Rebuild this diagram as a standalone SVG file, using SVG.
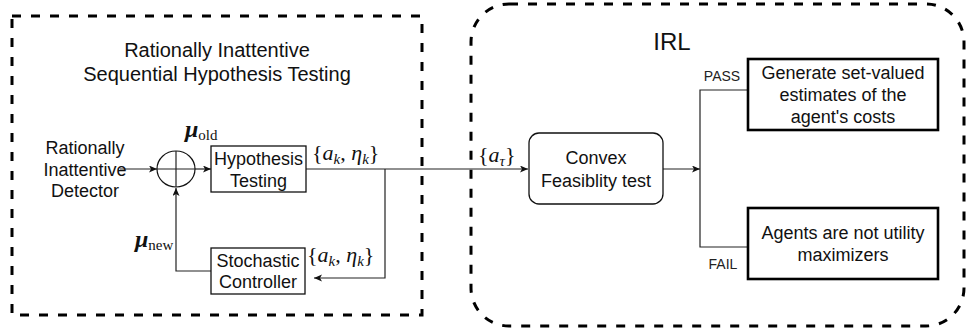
<svg xmlns="http://www.w3.org/2000/svg" width="968" height="334" viewBox="0 0 968 334">
<style>
.t{font-family:"Liberation Sans",Arial,sans-serif;font-size:18px;fill:#111;text-anchor:middle}
.title{font-size:20px}
.irl{font-size:24px}
.small{font-size:14px;fill:#222}
.m{font-family:"Liberation Serif","Times New Roman",serif;font-size:22px;fill:#111}
.i{font-style:italic}
.sub{font-size:15px}
.box{fill:#fff;stroke:#111;stroke-width:1.3}
.bold{fill:#fff;stroke:#000;stroke-width:2.6}
.dash{fill:none;stroke:#000;stroke-width:3;stroke-dasharray:9 10}
.ln{fill:none;stroke:#222;stroke-width:1.2}
</style>
<defs>
<marker id="ar" markerWidth="9" markerHeight="8" refX="8" refY="3.5" orient="auto" markerUnits="userSpaceOnUse">
<path d="M0,0 L8,3.5 L0,7 L2,3.5 z" fill="#111"/>
</marker>
</defs>
<rect width="968" height="334" fill="#fff"/>

<g id="container-rish">
<rect class="dash" x="12" y="16" width="410" height="299"/>
<text class="t title" x="217" y="57">Rationally Inattentive</text>
<text class="t title" x="217" y="81">Sequential Hypothesis Testing</text>
</g>

<g id="container-irl">
<rect class="dash" x="471" y="4" width="493" height="322" rx="38" ry="38"/>
<text class="t irl" x="672" y="50">IRL</text>
</g>

<g id="connectors">
<line class="ln" x1="120" y1="169" x2="157" y2="169" marker-end="url(#ar)"/>
<line class="ln" x1="195" y1="169" x2="211" y2="169" marker-end="url(#ar)"/>
<line class="ln" x1="306" y1="169" x2="528" y2="169" marker-end="url(#ar)"/>
<path class="ln" d="M385,169 V278 H314" marker-end="url(#ar)"/>
<path class="ln" d="M211,271 H176 V188" marker-end="url(#ar)"/>
<line class="ln" x1="663" y1="169" x2="700" y2="169" marker-end="url(#ar)"/>
<path class="ln" d="M748,90 H700 V247 H748"/>
<text class="t small" x="722" y="81">PASS</text>
<text class="t small" x="723" y="269">FAIL</text>
</g>

<g id="detector">
<text class="t" x="85" y="154">Rationally</text>
<text class="t" x="85" y="175.5">Inattentive</text>
<text class="t" x="85" y="197">Detector</text>
</g>

<g id="sum">
<ellipse cx="176" cy="169" rx="19" ry="18" fill="none" stroke="#111" stroke-width="1.2"/>
<line class="ln" x1="157" y1="169" x2="195" y2="169"/>
<line class="ln" x1="176" y1="151" x2="176" y2="187"/>
</g>

<g id="hypothesis">
<rect class="box" x="211" y="146" width="95" height="46"/>
<text class="t" x="258.5" y="165">Hypothesis</text>
<text class="t" x="258.5" y="186.5">Testing</text>
</g>

<g id="stochastic">
<rect class="box" x="211" y="248" width="94" height="46"/>
<text class="t" x="258" y="267">Stochastic</text>
<text class="t" x="258" y="288">Controller</text>
</g>

<g id="convex">
<rect class="box" x="529" y="133" width="134" height="71" rx="10" ry="10"/>
<text class="t" x="596" y="164">Convex</text>
<text class="t" x="596" y="187">Feasiblity test</text>
</g>

<g id="generate">
<rect class="bold" x="748" y="59" width="190" height="71"/>
<text class="t" x="843" y="79">Generate set-valued</text>
<text class="t" x="843" y="101">estimates of the</text>
<text class="t" x="843" y="123">agent's costs</text>
</g>

<g id="agents">
<rect class="bold" x="748" y="208" width="190" height="71"/>
<text class="t" x="843" y="239">Agents are not utility</text>
<text class="t" x="843" y="261">maximizers</text>
</g>

<g id="labels">
<text class="m" x="185" y="137"><tspan class="i" font-size="24" font-weight="bold">μ</tspan><tspan class="sub" dy="3">old</tspan></text>
<text class="m" x="135" y="247"><tspan class="i" font-size="24" font-weight="bold">μ</tspan><tspan class="sub" dy="3">new</tspan></text>
<text class="m" x="312" y="160">{<tspan class="i">a</tspan><tspan class="sub i" dy="4">k</tspan><tspan dy="-4">,  </tspan><tspan class="i">η</tspan><tspan class="sub i" dy="4">k</tspan><tspan dy="-4">}</tspan></text>
<text class="m" x="307" y="262">{<tspan class="i">a</tspan><tspan class="sub i" dy="4">k</tspan><tspan dy="-4">,  </tspan><tspan class="i">η</tspan><tspan class="sub i" dy="4">k</tspan><tspan dy="-4">}</tspan></text>
<text class="m" x="478" y="162">{<tspan class="i">a</tspan><tspan class="sub i" dy="4">τ</tspan><tspan dy="-4">}</tspan></text>
</g>
</svg>
